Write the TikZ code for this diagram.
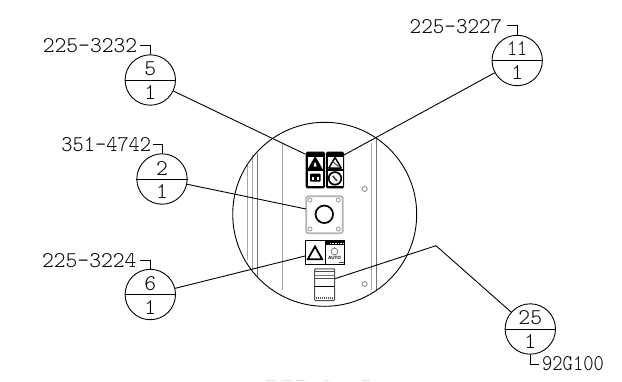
\documentclass[tikz,border=0pt]{standalone}
\usepackage{fontspec}
\newfontfamily\cadfont{Latin Modern Mono Light}
\newfontfamily\decalfont{Liberation Sans}[Scale=1]
\tikzset{
  balloon/.style={circle,draw=black,line width=0.9pt,minimum size=50.4pt,inner sep=0pt},
  leader/.style={draw=black,line width=0.9pt},
  hook/.style={draw=black,line width=0.9pt},
  cadnum/.style={inner sep=0pt,font=\cadfont\fontsize{22.5}{22.5}\selectfont,text=black},
  rib/.style={draw=black!35,line width=0.8pt},
  ribdark/.style={draw=black!55,line width=0.8pt},
  plate/.style={draw=black!30,line width=1.7pt,rounded corners=1.5pt},
  platehole/.style={circle,draw=black!35,line width=1pt,minimum size=4pt,inner sep=0pt},
  bolt/.style={circle,draw=black!40,line width=1pt,minimum size=5pt,inner sep=0pt},
  decal/.style={fill=black,rounded corners=1.5pt},
}
\newcommand{\cadlabel}[2]{\scalebox{#1}[1]{#2}}
\begin{document}
\begin{tikzpicture}[x=1pt,y=-1pt]
\useasboundingbox (0,0) rectangle (622,381);
% ribs
\draw[rib] (247.3,165)--(247.3,260);
\draw[rib] (252.3,155)--(252.3,270);
\draw[ribdark] (257.3,153)--(257.3,276);
\draw[rib] (282.3,143)--(282.3,290);
\draw[rib] (371.7,143)--(371.7,290);
\draw[ribdark] (376.7,138)--(376.7,290);
% main circle
\node[circle,draw=black,line width=0.9pt,minimum size=184pt,inner sep=0pt] (disc) at (324.7,214.3) {};
\node[bolt] (bolt1) at (364.7,189) {};
\node[bolt] (bolt2) at (364.7,284) {};
% button plate
\draw[plate] (306.3,196.3) rectangle (342.7,233.3);
\node[platehole] (h1) at (310,200) {};
\node[platehole] (h2) at (338.3,200) {};
\node[platehole] (h3) at (310,229) {};
\node[platehole] (h4) at (338.3,229) {};
\node[circle,draw=black,line width=1.7pt,minimum size=17.5pt,inner sep=0pt] (button) at (324.3,214.3) {};
% top-left decal
\fill[decal] (305.7,151.7) rectangle (325,188.3);
\fill[white] (307.5,156.5) rectangle (323,169);
\fill[black] (315.2,156)--(307.8,169)--(322.6,169)--cycle;
\fill[white] (314.5,162.5)--(315.9,162.5)--(316.6,166.5)--(313.8,166.5)--cycle;
\fill[white] (307.5,171) rectangle (323,186);
\fill[black,rounded corners=1pt] (310,173.5) rectangle (320.7,181.7);
\fill[white] (312.2,177) rectangle (314,179.6);
\fill[white] (316.7,177) rectangle (318.5,179.6);
% top-right decal
\fill[decal] (326,151.7) rectangle (344.2,188.3);
\fill[white] (327.5,156.5) rectangle (342.7,169);
\draw[black,line width=1.5pt,line join=round] (335,157.5)--(328.8,168)--(341.2,168)--cycle;
\draw[black!70,line width=1pt] (332.5,161.5)--(338.5,166.5);
\fill[white] (327.5,171) rectangle (342.7,186);
\draw[black,line width=1.7pt] (335,178.4) circle (6.3);
\draw[black!75,line width=1.6pt] (332.8,176)--(337,181);
% warning decal
\draw[black,line width=0.7pt] (305,240.7) rectangle (344.3,264);
\draw[black,line width=0.6pt] (325,240.7)--(325,264);
\draw[black,line width=1.8pt,line join=miter] (315,246.5)--(307.8,259.3)--(322.2,259.3)--cycle;
\fill[black] (325.5,241) rectangle (344,245);
\draw[white,line width=0.5pt,dash pattern=on 1pt off 0.6pt] (330,243)--(343,243);
\draw[black!55,line width=0.7pt] (334.5,251.5) circle (3.4);
\draw[black!55,line width=0.6pt] (334.5,247)--(334.5,248.2);
\node[inner sep=0pt,font=\decalfont\bfseries\fontsize{4.6}{5}\selectfont] (auto) at (334.5,258.3) {AUTO};
\fill[black!70] (338.5,261.5) rectangle (344,263.2);
% bottom decal
\draw[black!70,line width=1pt,rounded corners=1pt] (314.5,268.8) rectangle (334.6,300.5);
\draw[black!70,line width=1pt] (315,271.8)--(334,271.8);
\draw[black!55,line width=1pt] (315,275)--(334,275);
\draw[black,line width=1pt] (315,286.2)--(334,286.2);
\draw[black!70,line width=0.6pt] (315,278)--(334,278);
\draw[black!65,line width=2pt,dash pattern=on 1.3pt off 0.7pt] (315.5,298)--(333.5,298);
% coordinates for leader ends
\coordinate (t5) at (305,154);
\coordinate (t11) at (344,155);
\coordinate (t2) at (306,209);
\coordinate (t6) at (305,256);
\coordinate (k25) at (436,245.7);
\coordinate (t25) at (334,279);
% balloons
\node[balloon] (b5) at (150.3,80) {};
\node[balloon] (b11) at (517.2,60.5) {};
\node[balloon] (b2) at (162,179) {};
\node[balloon] (b6) at (150.3,294.5) {};
\node[balloon] (b25) at (530.3,329) {};
\foreach \b in {b5,b11,b2,b6,b25}{\draw[leader] (\b.west)--(\b.east);}
\node[cadnum] (n5) at (150.3,68.5) {5};
\node[cadnum] (q5) at (150.3,92) {1};
\node[cadnum] (n11) at (517.2,48.5) {\cadlabel{0.85}{11}};
\node[cadnum] (q11) at (517.2,72) {1};
\node[cadnum] (n2) at (162,168) {2};
\node[cadnum] (q2) at (162,191) {1};
\node[cadnum] (n6) at (150.3,283.5) {6};
\node[cadnum] (q6) at (150.3,307) {1};
\node[cadnum] (n25) at (530.3,318) {\cadlabel{1.0}{25}};
\node[cadnum] (q25) at (530.3,341.5) {1};
% leaders
\draw[leader] (b5)--(t5);
\draw[leader] (b11)--(t11);
\draw[leader] (b2)--(t2);
\draw[leader] (b6)--(t6);
\draw[leader] (b25)--(k25)--(t25);
% part numbers
\node[cadnum] (p5) at (90,45.7) {\cadlabel{1.0}{225-3232}};
\node[cadnum] (p11) at (456,26.7) {\cadlabel{0.98}{225-3227}};
\node[cadnum] (p2) at (106.3,144.7) {\cadlabel{0.95}{351-4742}};
\node[cadnum] (p6) at (89.3,260.7) {\cadlabel{1.0}{225-3224}};
\node[cadnum] (p25) at (573,364) {\cadlabel{0.87}{92G100}};
% hooks
\coordinate (c5) at (140,45.3);
\coordinate (c11) at (507,25.7);
\coordinate (c2) at (152.7,144);
\coordinate (c6) at (140,260);
\coordinate (c25) at (539,364);
\draw[hook] (c5)-|(b5.north);
\draw[hook] (c11)-|(b11.north);
\draw[hook] (c2)-|(b2.north);
\draw[hook] (c6)-|(b6.north);
\draw[hook] (c25)-|(b25.south);
% faint remains at the lower edge
\foreach \xa/\xb in {266/275,281/291,296/305,324/329,362/370}{\draw[black!12,line width=0.8pt] (\xa,380.4)--(\xb,380.4);}
\end{tikzpicture}
\end{document}
